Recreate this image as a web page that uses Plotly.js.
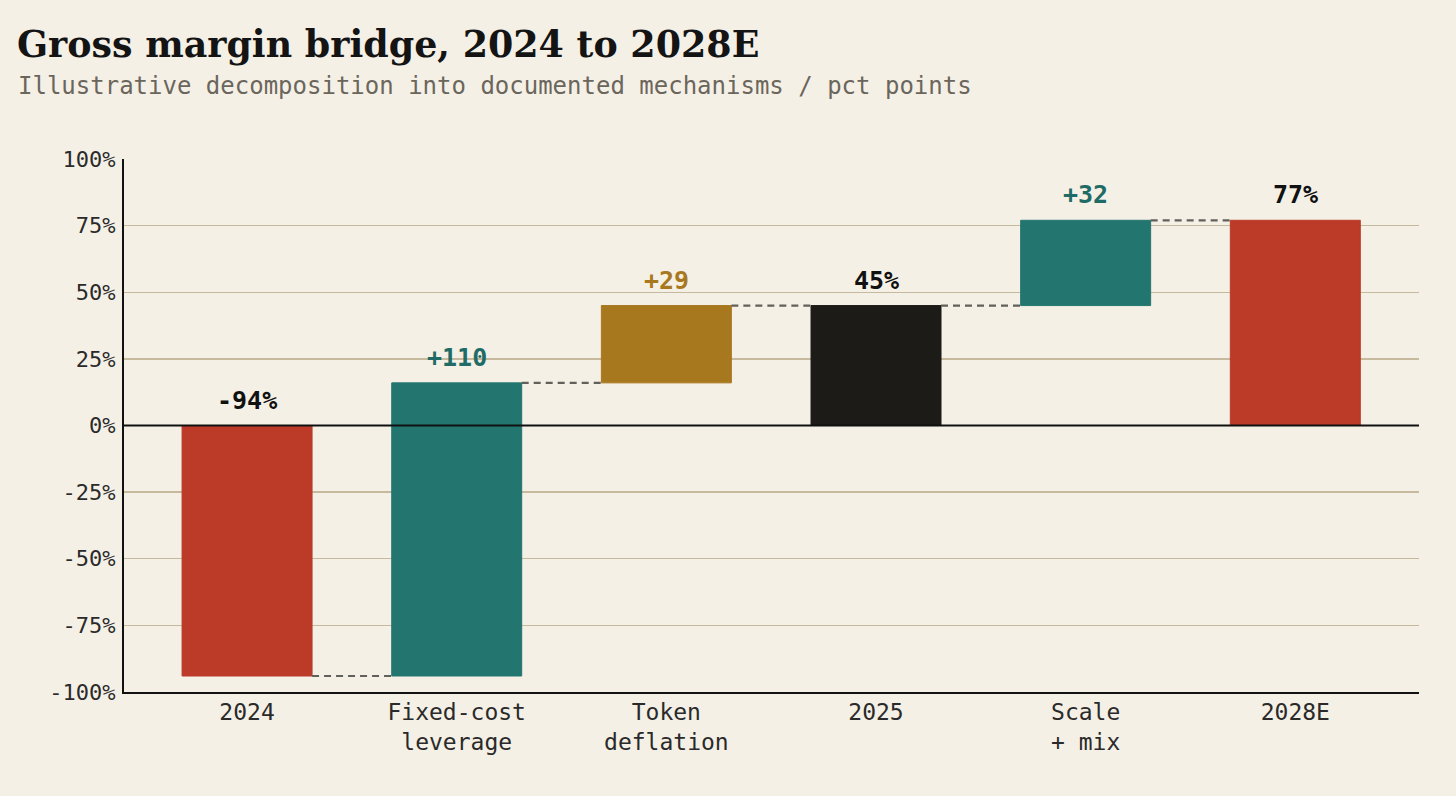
<!DOCTYPE html>
<html>
<head>
<meta charset="utf-8">
<script src="https://cdn.plot.ly/plotly-3.0.1.min.js"></script>
<style>
  html, body { margin: 0; padding: 0; background: #f5f0e6; }
  #chart { width: 1456px; height: 796px; }
</style>
</head>
<body>
<div id="chart"></div>
<script>
// ---- data ----
const categories = ["2024", "Fixed-cost<br>leverage", "Token<br>deflation", "2025", "Scale<br>+ mix", "2028E"];
const measures   = ["absolute", "relative", "relative", "total", "relative", "total"];
const values     = [-94, 110, 29, 45, 32, 77];
const valueLabels = ["-94%", "+110", "+29", "45%", "+32", "77%"];
const barColors   = ["#bb3a28", "#237670", "#a8781f", "#1d1b17", "#237670", "#bb3a28"];
const labelColors = ["#111111", "#1f6b66", "#a8781f", "#111111", "#1f6b66", "#111111"];
const yTickVals  = [-100, -75, -50, -25, 0, 25, 50, 75, 100];
const yTickText  = ["-100%", "-75%", "-50%", "-25%", "0%", "25%", "50%", "75%", "100%"];

// ---- derive waterfall geometry ----
const barWidth = 0.62;
const xs = categories.map((_, i) => i);
const bases = [], heights = [], ends = [];
let running = 0;
measures.forEach((m, i) => {
  if (m === "relative") {
    bases.push(running); heights.push(values[i]); running += values[i];
  } else {
    bases.push(0); heights.push(values[i]); running = values[i];
  }
  ends.push(running);
});

const connX = [], connY = [];
for (let i = 0; i < xs.length - 1; i++) {
  connX.push(xs[i] + barWidth / 2, xs[i + 1] - barWidth / 2, null);
  connY.push(ends[i], ends[i], null);
}

const mono = "DejaVu Sans Mono, monospace";

const traces = [
  {
    type: "scatter", mode: "lines", x: connX, y: connY,
    line: { color: "#62605a", width: 2.2, dash: "7px,5px" },
    hoverinfo: "skip", showlegend: false
  },
  {
    type: "bar", x: xs, y: heights, base: bases, width: barWidth,
    marker: { color: barColors, line: { color: barColors, width: 1 } },
    hoverinfo: "skip", showlegend: false
  }
];

const annotations = xs.map((x, i) => ({
  x: x, y: Math.max(bases[i], bases[i] + heights[i]),
  xref: "x", yref: "y", yanchor: "bottom", yshift: 9,
  text: "<b>" + valueLabels[i] + "</b>", showarrow: false,
  font: { family: mono, size: 25, color: labelColors[i] }
}));

annotations.push({
  xref: "paper", yref: "paper", x: -0.0835, y: 1.0,
  xanchor: "left", yanchor: "middle",
  yshift: 159 - 86,
  text: "Illustrative decomposition into documented mechanisms / pct points",
  showarrow: false, font: { family: mono, size: 24, color: "#6b665c" }
});

const layout = {
  width: 1456, height: 796,
  paper_bgcolor: "#f5f0e6", plot_bgcolor: "#f5f0e6",
  margin: { l: 124, r: 37, t: 159, b: 104 },
  title: {
    text: "<b>Gross margin bridge, 2024 to 2028E</b>",
    x: 17 / 1456, xanchor: "left", xref: "container",
    y: 1 - 44 / 796, yanchor: "middle", yref: "container",
    font: { family: "DejaVu Serif, serif", size: 36.4, color: "#141414" }
  },
  xaxis: {
    type: "linear", range: [-0.587, 5.59],
    tickvals: xs, ticktext: categories,
    showgrid: false, zeroline: false,
    showline: true, linecolor: "#111111", linewidth: 2,
    ticks: "", ticklabelstandoff: -2,
    tickfont: { family: mono, size: 23, color: "#2a2a2a" },
    fixedrange: true
  },
  yaxis: {
    range: [-100, 100],
    tickvals: yTickVals, ticktext: yTickText,
    showgrid: true, gridcolor: "#c6b99e", gridwidth: 1.3,
    zeroline: false,
    showline: true, linecolor: "#111111", linewidth: 2,
    ticks: "", ticklabelstandoff: 2,
    tickfont: { family: mono, size: 22, color: "#2a2a2a" },
    fixedrange: true
  },
  shapes: [{
    type: "line", xref: "paper", yref: "y", x0: 0, x1: 1, y0: 0, y1: 0,
    line: { color: "#111111", width: 2 }, layer: "above"
  }],
  annotations: annotations,
  bargap: 0, showlegend: false
};

Plotly.newPlot("chart", traces, layout, { displayModeBar: false, staticPlot: true });
</script>
</body>
</html>
